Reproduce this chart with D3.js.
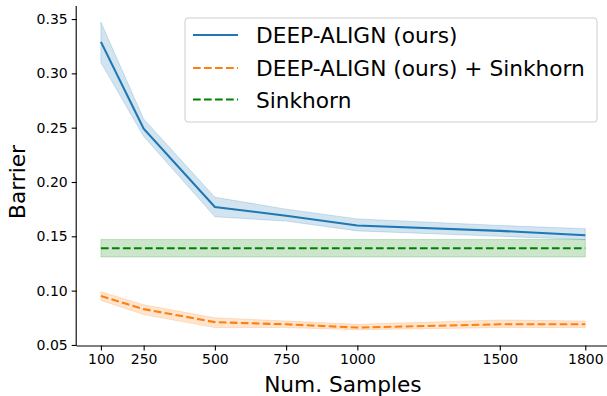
<!DOCTYPE html>
<html><head><meta charset="utf-8">
<script src="https://cdn.jsdelivr.net/npm/d3@7"></script>
<style>html,body{margin:0;padding:0;background:#fff;} svg{display:block;font-family:"DejaVu Sans",sans-serif;}</style>
</head><body><svg id="c" width="607" height="396"></svg>
<script>
const samples = [100, 250, 500, 750, 1000, 1500, 1800];
const deepMean = [0.329, 0.249, 0.177, 0.169, 0.160, 0.155, 0.151];
const deepLow  = [0.310, 0.242, 0.168, 0.164, 0.155, 0.150, 0.147];
const deepHigh = [0.347, 0.258, 0.186, 0.175, 0.166, 0.160, 0.157];
const sinkDeepMean = [0.095, 0.083, 0.071, 0.069, 0.066, 0.069, 0.069];
const sinkDeepLow  = [0.091, 0.078, 0.066, 0.066, 0.064, 0.066, 0.066];
const sinkDeepHigh = [0.099, 0.087, 0.075, 0.072, 0.069, 0.073, 0.072];
const sinkMean = [0.139, 0.139, 0.139, 0.139, 0.139, 0.139, 0.139];
const sinkLow  = [0.131, 0.131, 0.131, 0.131, 0.131, 0.131, 0.131];
const sinkHigh = [0.147, 0.147, 0.147, 0.147, 0.147, 0.147, 0.147];
const xTicks = [100, 250, 500, 750, 1000, 1500, 1800];
const yTicks = [0.05, 0.10, 0.15, 0.20, 0.25, 0.30, 0.35];
const seriesNames = ["DEEP-ALIGN (ours)", "DEEP-ALIGN (ours) + Sinkhorn", "Sinkhorn"];
const colors = ["#1f77b4", "#ff7f0e", "#008000"];

const svg = d3.select("#c");
const x = d3.scaleLinear().domain([15, 1885]).range([76.7, 609.5]);
const y = d3.scaleLinear().domain([0.0495, 0.362]).range([345.5, 6]);

const series = [
  {name: seriesNames[0], mean: deepMean, lo: deepLow, hi: deepHigh, color: colors[0], dash: null},
  {name: seriesNames[1], mean: sinkDeepMean, lo: sinkDeepLow, hi: sinkDeepHigh, color: colors[1], dash: "7.7,3.3"},
  {name: seriesNames[2], mean: sinkMean, lo: sinkLow, hi: sinkHigh, color: colors[2], dash: "7.7,3.3"}
];

const area = d3.area().x(d => x(d.x)).y0(d => y(d.lo)).y1(d => y(d.hi));
const line = d3.line().x(d => x(d.x)).y(d => y(d.v));

series.forEach(s => {
  const pts = samples.map((v, i) => ({x: v, lo: s.lo[i], hi: s.hi[i]}));
  svg.append("path").attr("d", area(pts)).attr("fill", s.color).attr("fill-opacity", 0.2)
    .attr("stroke", s.color).attr("stroke-opacity", 0.2).attr("stroke-width", 1);
});
series.forEach(s => {
  const pts = samples.map((v, i) => ({x: v, v: s.mean[i]}));
  const p = svg.append("path").attr("d", line(pts)).attr("fill", "none")
    .attr("stroke", s.color).attr("stroke-width", 2.1);
  if (s.dash) p.attr("stroke-dasharray", s.dash);
});

// axes
const xAxis = d3.axisBottom(x).tickValues(xTicks).tickFormat(d3.format("d")).tickSize(5).tickPadding(4);
const yAxis = d3.axisLeft(y).tickValues(yTicks).tickFormat(d3.format(".2f")).tickSize(5).tickPadding(4);
const gx = svg.append("g").attr("transform", "translate(0,345.5)").call(xAxis);
const gy = svg.append("g").attr("transform", "translate(76.7,0)").call(yAxis);
[gx, gy].forEach(g => {
  g.select(".domain").attr("stroke", "#000").attr("stroke-width", 1.1);
  g.selectAll(".tick line").attr("stroke", "#000").attr("stroke-width", 1.1);
  g.selectAll(".tick text").attr("fill", "#000").style("font-size", "14px").style("font-family", "DejaVu Sans");
});
gx.select(".domain").attr("d", "M76.7,0.5H607");
gy.select(".domain").attr("d", "M-0.5,6V345.5");

svg.append("text").attr("x", 342.9).attr("y", 392).attr("text-anchor", "middle")
  .style("font-size", "21.7px").text("Num. Samples");
svg.append("text").attr("transform", "translate(25,182) rotate(-90)").attr("text-anchor", "middle")
  .style("font-size", "21.7px").text("Barrier");

// legend
const lg = svg.append("g");
lg.append("rect").attr("x", 185).attr("y", 18).attr("width", 412).attr("height", 104).attr("rx", 3)
  .attr("fill", "#fff").attr("fill-opacity", 0.8).attr("stroke", "#cccccc").attr("stroke-width", 1);
const rowsY = [35, 68, 99.5];
series.forEach((s, i) => {
  const l = lg.append("line").attr("x1", 193).attr("x2", 238).attr("y1", rowsY[i]).attr("y2", rowsY[i])
    .attr("stroke", s.color).attr("stroke-width", 2.1);
  if (s.dash) l.attr("stroke-dasharray", s.dash);
  lg.append("text").attr("x", 256).attr("y", rowsY[i] + 8).style("font-size", "21.7px").text(s.name);
});
</script></body></html>
